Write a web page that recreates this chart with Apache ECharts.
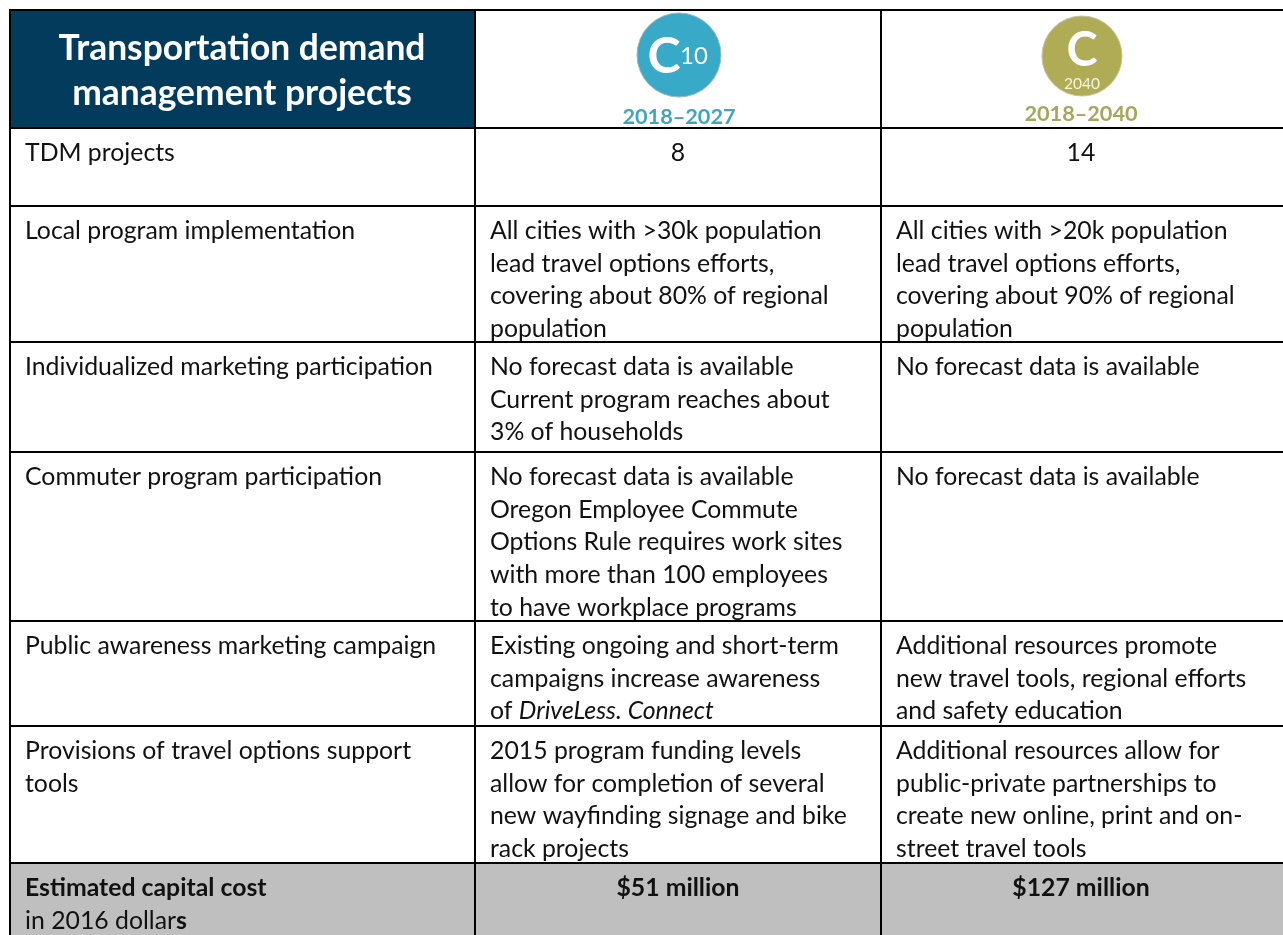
<!DOCTYPE html>
<html style="height: 100%">
<head>
    <meta charset="utf-8">
</head>
<body style="height: 100%; margin: 0; background: #fff">
<div id="container" style="width: 1283px; height: 935px"></div>

<script type="text/javascript" src="https://cdn.jsdelivr.net/npm/echarts@6/dist/echarts.min.js"></script>

<script type="text/javascript">
    // table text, one entry per row, one string per printed line
    var headerTitle = ['Transportation demand', 'management projects'];
    var periods = ['2018–2027', '2018–2040'];
    var rowLabels = [
        ['TDM projects'],
        ['Local program implementation'],
        ['Individualized marketing participation'],
        ['Commuter program participation'],
        ['Public awareness marketing campaign'],
        ['Provisions of travel options support', 'tools'],
        ['{b|Estimated capital cost}', 'in 2016 dollar{b|s}']
    ];
    var c10Values = [
        ['8'],
        ['All cities with >30k population', 'lead travel options efforts,', 'covering about 80% of regional', 'population'],
        ['No forecast data is available', 'Current program reaches about', '3% of households'],
        ['No forecast data is available', 'Oregon Employee Commute', 'Options Rule requires work sites', 'with more than 100 employees', 'to have workplace programs'],
        ['Existing ongoing and short-term', 'campaigns increase awareness', 'of {i|DriveLess. Connect}'],
        ['2015 program funding levels', 'allow for completion of several', 'new wayfinding signage and bike', 'rack projects'],
        ['{b|$51 million}']
    ];
    var c2040Values = [
        ['14'],
        ['All cities with >20k population', 'lead travel options efforts,', 'covering about 90% of regional', 'population'],
        ['No forecast data is available'],
        ['No forecast data is available'],
        ['Additional resources promote', 'new travel tools, regional efforts', 'and safety education'],
        ['Additional resources allow for', 'public-private partnerships to', 'create new online, print and on-', 'street travel tools'],
        ['{b|$127 million}']
    ];

    // table geometry in page pixels, the axes below map 1:1
    var colEdges = [10, 475, 881, 1283];
    var rowEdges = [128, 206, 342, 452, 621, 726, 863, 935];
    var columns = [rowLabels, c10Values, c2040Values];

    var FONT = 'Lato';
    var BODY_SIZE = 24.8;
    var LINE_PITCH = 32.7;
    var NAVY = '#023b5c';
    var GREY = '#bfbfbf';
    var TEAL = '#38a9c6';
    var OLIVE = '#b0ac56';

    var cells = [];
    columns.forEach(function (col, c) {
        col.forEach(function (lines, r) {
            cells.push([c, r]);
        });
    });

    function bodyText(api, x, y, text, align) {
        var p = api.coord([x, y]);
        return {
            type: 'text',
            style: {
                x: p[0], y: p[1], text: text, align: align, verticalAlign: 'middle',
                fontFamily: FONT, fontSize: BODY_SIZE, fill: '#111',
                rich: {
                    b: {fontFamily: FONT, fontSize: BODY_SIZE, fontWeight: 'bold', fill: '#111'},
                    i: {fontFamily: FONT, fontSize: BODY_SIZE, fontStyle: 'italic', fill: '#111'}
                }
            }
        };
    }

    function renderCell(params, api) {
        var c = api.value(0), r = api.value(1);
        var lines = columns[c][r];
        var children = [];
        var lt = api.coord([colEdges[c], rowEdges[r]]);
        var rb = api.coord([colEdges[c + 1], rowEdges[r + 1]]);
        if (r === rowLabels.length - 1) {
            children.push({
                type: 'rect',
                shape: {x: lt[0], y: lt[1], width: rb[0] - lt[0], height: rb[1] - lt[1]},
                style: {fill: GREY}
            });
        }
        // only the first row and the cost row of the value columns are centred
        var centred = c > 0 && (r === 0 || r === rowLabels.length - 1);
        var x = centred ? (colEdges[c] + colEdges[c + 1]) / 2 + (c === 1 ? 0 : -1) : colEdges[c] + 15;
        lines.forEach(function (line, i) {
            var y = rowEdges[r] + 25 + i * LINE_PITCH;
            children.push(bodyText(api, x, y, line, centred ? 'center' : 'left'));
        });
        return {type: 'group', children: children};
    }

    function renderHeader(params, api) {
        var lt = api.coord([colEdges[0], 10]);
        var rb = api.coord([colEdges[1], rowEdges[0]]);
        var children = [{
            type: 'rect',
            shape: {x: lt[0], y: lt[1], width: rb[0] - lt[0], height: rb[1] - lt[1]},
            style: {fill: NAVY}
        }];
        headerTitle.forEach(function (line, i) {
            var p = api.coord([242, 49 + i * 45]);
            children.push({
                type: 'text',
                style: {
                    x: p[0], y: p[1], text: line, align: 'center', verticalAlign: 'middle',
                    fontFamily: FONT, fontSize: 35.4, fontWeight: 'bold', fill: '#fff'
                }
            });
        });
        return {type: 'group', children: children};
    }

    function label(api, x, y, text, size, weight, fill) {
        var p = api.coord([x, y]);
        return {
            type: 'text',
            style: {
                x: p[0], y: p[1], text: text, align: 'center', verticalAlign: 'middle',
                fontFamily: FONT, fontSize: size, fontWeight: weight, fill: fill
            }
        };
    }

    // the two scenario badges above the value columns
    function renderBadge(params, api) {
        var i = api.value(0);
        var children = [];
        if (i === 0) {
            var a = api.coord([679, 55]);
            children.push({type: 'circle', shape: {cx: a[0], cy: a[1], r: 42}, style: {fill: TEAL, stroke: '#9fb7bd', lineWidth: 1}});
            children.push(label(api, 664, 57, 'C', 50, 'bold', '#fff'));
            children.push(label(api, 694, 56, '10', 24, 'normal', '#fff'));
            children.push(label(api, 679, 117, periods[0], 21.7, 'bold', '#3fa6bf'));
        } else {
            var b = api.coord([1082, 56]);
            children.push({type: 'circle', shape: {cx: b[0], cy: b[1], r: 40}, style: {fill: OLIVE, stroke: '#c4c3a0', lineWidth: 1}});
            children.push(label(api, 1082, 51, 'C', 47, 'bold', '#fff'));
            children.push(label(api, 1082, 84, '2040', 15.5, 'normal', '#f6f5e0'));
            children.push(label(api, 1081, 114, periods[1], 21.7, 'bold', '#a6a75c'));
        }
        return {type: 'group', children: children};
    }

    function rule(api, x1, y1, x2, y2) {
        var p1 = api.coord([x1, y1]), p2 = api.coord([x2, y2]);
        return {
            type: 'line',
            shape: {x1: p1[0], y1: p1[1], x2: p2[0], y2: p2[1]},
            style: {stroke: '#000', lineWidth: 2}
        };
    }

    function renderRules(params, api) {
        var children = [rule(api, 9, 10, 1283, 10)];
        rowEdges.slice(0, 7).forEach(function (y) {
            children.push(rule(api, 9, y, 1283, y));
        });
        colEdges.slice(0, 3).forEach(function (x) {
            children.push(rule(api, x, 9, x, 935));
        });
        return {type: 'group', children: children};
    }

    var dom = document.getElementById('container');
    var myChart = echarts.init(dom);

    var option = {
        animation: false,
        backgroundColor: '#fff',
        grid: {left: 0, right: 0, top: 0, bottom: 0},
        xAxis: {type: 'value', min: 0, max: 1283, show: false},
        yAxis: {type: 'value', min: 0, max: 935, inverse: true, show: false},
        series: [
            {type: 'custom', renderItem: renderHeader, data: [[0]], clip: false, silent: true},
            {type: 'custom', renderItem: renderBadge, data: [[0], [1]], clip: false, silent: true},
            {type: 'custom', renderItem: renderCell, data: cells, clip: false, silent: true},
            {type: 'custom', renderItem: renderRules, data: [[0]], clip: false, silent: true}
        ]
    };

    myChart.setOption(option);
</script>
</body>
</html>
